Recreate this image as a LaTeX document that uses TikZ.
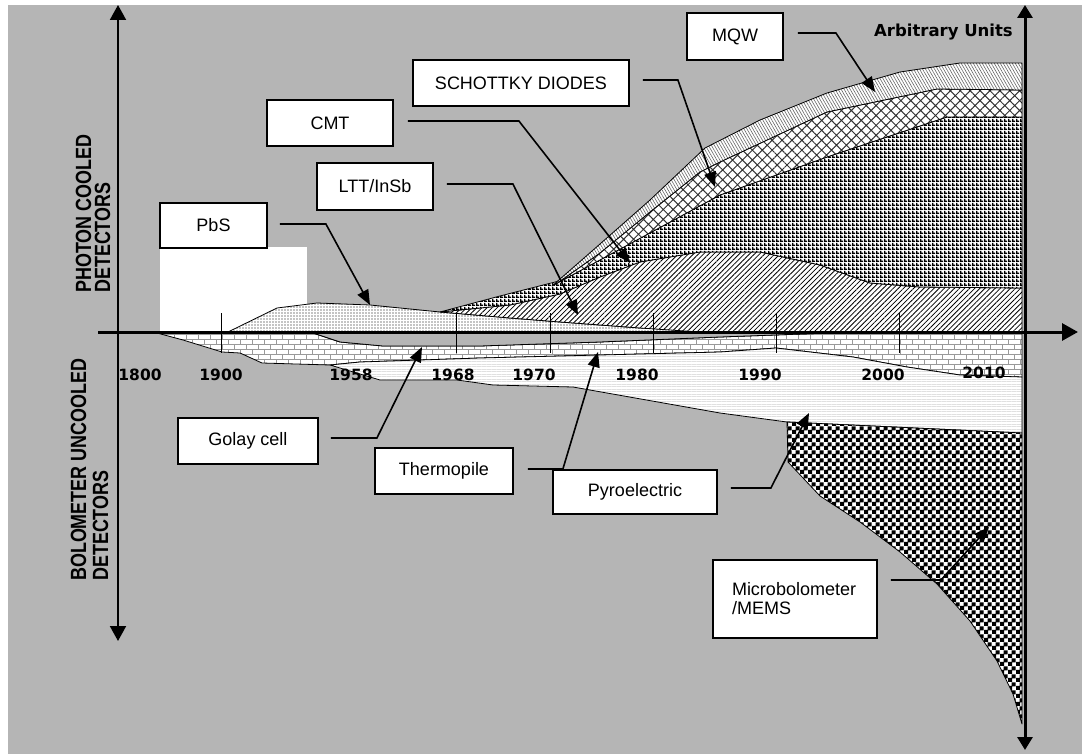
\documentclass[tikz,border=0pt]{standalone}
\usepackage{fontspec}
\setmainfont{Liberation Sans}
\newfontfamily\dvb{DejaVu Sans}
\newfontfamily\nrw{Liberation Sans}[FakeStretch=0.815]
\usetikzlibrary{arrows.meta,patterns,patterns.meta}
\definecolor{bg}{RGB}{181,181,181}

\pgfdeclarepatternformonly{mybricks}{\pgfpoint{-1pt}{-1pt}}{\pgfpoint{13pt}{11pt}}{\pgfpoint{12pt}{10pt}}{%
  \pgfsetlinewidth{0.7pt}%
  \pgfpathmoveto{\pgfpoint{0pt}{0pt}}\pgfpathlineto{\pgfpoint{12pt}{0pt}}%
  \pgfpathmoveto{\pgfpoint{0pt}{5pt}}\pgfpathlineto{\pgfpoint{12pt}{5pt}}%
  \pgfpathmoveto{\pgfpoint{0pt}{0pt}}\pgfpathlineto{\pgfpoint{0pt}{5pt}}%
  \pgfpathmoveto{\pgfpoint{6pt}{5pt}}\pgfpathlineto{\pgfpoint{6pt}{10pt}}%
  \pgfusepath{stroke}}
\pgfdeclarepatternformonly{mycheck}{\pgfpointorigin}{\pgfpoint{8pt}{8pt}}{\pgfpoint{8pt}{8pt}}{%
  \pgfpathrectangle{\pgfpointorigin}{\pgfpoint{4.5pt}{4.5pt}}%
  \pgfpathrectangle{\pgfpoint{4pt}{4pt}}{\pgfpoint{4.5pt}{4.5pt}}%
  \pgfusepath{fill}}
\pgfdeclarepatternformonly{mygrid}{\pgfpointorigin}{\pgfpoint{4pt}{4pt}}{\pgfpoint{4pt}{4pt}}{%
  \pgfpathrectangle{\pgfpointorigin}{\pgfpoint{4pt}{1.8pt}}%
  \pgfpathrectangle{\pgfpointorigin}{\pgfpoint{1.8pt}{4pt}}%
  \pgfusepath{fill}}

\tikzset{
  region/.style={draw=black, line width=0.8pt, line join=round, preaction={fill=white}},
  box/.style={draw=black, line width=1.8pt, fill=white, inner sep=0pt, font=\fontsize{18}{20}\selectfont},
  conn/.style={line width=1.6pt, -{Triangle[length=15pt,width=12pt]}},
  yearlab/.style={font=\dvb\bfseries\fontsize{15.5}{18}\selectfont, anchor=base, inner sep=0pt},
  axislab/.style={font=\nrw\bfseries\fontsize{22}{24}\selectfont, rotate=90, anchor=base west, inner sep=0pt},
  tickline/.style={line width=1pt},
}

\begin{document}
\begin{tikzpicture}[x=1pt,y=-1pt]
\useasboundingbox (0,0) rectangle (1082,754);
\fill[white] (0,0) rectangle (1082,754);
\fill[bg] (8,5) rectangle (1082,754);
\fill[white] (160,247) rectangle (307,332);

% ---------- regions above axis ----------
% PbS
\path[region, pattern={Dots[radius=0.7pt,distance=3pt]}, pattern color=black]
  (228,332) -- (277,308) -- (317,303) -- (370,305) -- (440,312) -- (510,318) -- (560,322)
  -- (640,328) -- (700,331) -- (700,332) -- cycle;
% LTT/InSb
\path[region, pattern={Lines[angle=45,distance=3.6pt,line width=0.8pt]}, pattern color=black]
  (440,312) -- (510,318) -- (560,322) -- (640,328) -- (700,332) -- (1022,332) -- (1022,288)
  -- (920,287) -- (870,283) -- (820,265) -- (760,252) -- (700,252) -- (640,262)
  -- (600,277) -- (560,294) -- (510,305) -- cycle;
% CMT
\path[region, pattern=mygrid, pattern color=black]
  (440,312) -- (510,305) -- (560,294) -- (600,277) -- (640,262) -- (700,252) -- (760,252)
  -- (820,265) -- (870,283) -- (920,287) -- (1022,288) -- (1022,117) -- (947,117)
  -- (830,156) -- (720,195) -- (563,280) -- (500,296) -- cycle;
% SCHOTTKY DIODES
\path[region, pattern={Hatch[angle=45,distance=7pt,line width=1pt]}, pattern color=black!80]
  (556,284) -- (563,280) -- (720,195) -- (830,156) -- (947,117) -- (1022,117) -- (1022,90)
  -- (937,89) -- (827,112) -- (720,162) -- (700,172) -- (650,212) -- (600,253) -- cycle;
% MQW
\path[region, pattern={Lines[angle=-60,distance=2.6pt,line width=0.6pt]}, pattern color=black!60]
  (552,286) -- (556,284) -- (600,253) -- (650,212) -- (700,172) -- (720,162) -- (827,112)
  -- (937,89) -- (1022,90) -- (1022,63) -- (960,63) -- (900,72) -- (827,93) -- (760,120)
  -- (705,148) -- (650,200) -- (600,244) -- cycle;

% ---------- regions below axis ----------
% Thermopile
\path[region, pattern=mybricks, pattern color=black!40]
  (157,333) -- (183,340) -- (222,352) -- (240,353) -- (262,363) -- (330,365) -- (360,362)
  -- (480,358) -- (720,352) -- (776,348) -- (853,357) -- (907,367) -- (960,375) -- (1022,377)
  -- (1022,333) -- (830,333) -- (720,337) -- (600,342) -- (480,346) -- (383,346)
  -- (340,342) -- (313,333) -- cycle;
% Golay cell
\path[draw=black, line width=0.8pt, fill=bg]
  (313,333) -- (340,342) -- (383,346) -- (480,346) -- (600,342) -- (720,337) -- (830,333) -- cycle;
% Pyroelectric
\path[region, pattern={Lines[angle=0,distance=2.5pt,line width=0.4pt]}, pattern color=black!12]
  (330,365) -- (360,362) -- (480,358) -- (720,352) -- (776,348) -- (853,357) -- (907,367)
  -- (960,375) -- (1022,377) -- (1022,433) -- (787,422) -- (720,413) -- (573,387)
  -- (493,385) -- (457,380) -- (380,380) -- cycle;
% Microbolometer / MEMS
\path[region, pattern=mycheck, pattern color=black]
  (787,422) -- (1022,433) -- (1022,724) -- (1013,694) -- (997,661) -- (970,621) -- (937,584)
  -- (900,552) -- (860,522) -- (820,496) -- (788,462) -- cycle;

% ---------- ticks ----------
\foreach \tx in {221,456,550,653,776,899}
  \draw[tickline] (\tx,313) -- (\tx,353);

% ---------- axes ----------
\draw[line width=2pt, {Triangle[length=15pt,width=16pt]}-{Triangle[length=15pt,width=16pt]}] (118,641) -- (118,5);
\draw[line width=3pt, -{Triangle[length=16pt,width=17pt]}] (98,332) -- (1078,332);
\draw[line width=3pt, {Triangle[length=13pt,width=15pt]}-{Triangle[length=13pt,width=15pt]}] (1025,750) -- (1025,5);

% ---------- axis labels ----------
\node[axislab] (phot1) at (91,293) {PHOTON COOLED};
\node[axislab] (phot2) at (110,293) {DETECTORS};
\node[axislab] (bol1) at (86,581) {BOLOMETER UNCOOLED};
\node[axislab] (bol2) at (108,581) {DETECTORS};
\node[font=\dvb\bfseries\fontsize{16.5}{19}\selectfont, anchor=base east, inner sep=0pt] (au) at (1013,37) {Arbitrary Units};

% ---------- years ----------
\node[yearlab] (y1800) at (140,380) {1800};
\node[yearlab] (y1900) at (221,380) {1900};
\node[yearlab] (y1958) at (351,380) {1958};
\node[yearlab] (y1968) at (453,380) {1968};
\node[yearlab] (y1970) at (534,380) {1970};
\node[yearlab] (y1980) at (637,380) {1980};
\node[yearlab] (y1990) at (760,380) {1990};
\node[yearlab] (y2000) at (883,380) {2000};
\node[yearlab] (y2010) at (984,378) {2010};

% ---------- label boxes ----------
\node[box, minimum width=107pt, minimum height=45pt] (pbs) at (213.5,225.5) {PbS};
\node[box, minimum width=126pt, minimum height=46pt] (cmt) at (330,123) {CMT};
\node[box, minimum width=116pt, minimum height=47pt] (ltt) at (375,186.5) {LTT/InSb};
\node[box, minimum width=216pt, minimum height=46pt] (sch) at (521,83) {SCHOTTKY DIODES};
\node[box, minimum width=96pt, minimum height=47pt] (mqw) at (735,36.5) {MQW};
\node[box, minimum width=140pt, minimum height=46pt] (golay) at (248,441) {Golay cell};
\node[box, minimum width=138pt, minimum height=46pt] (therm) at (444,471) {Thermopile};
\node[box, minimum width=164pt, minimum height=44pt] (pyro) at (635,492) {Pyroelectric};
\node[box, minimum width=164pt, minimum height=78pt, align=left, text width=126pt,
      font=\fontsize{18}{19}\selectfont] (micro) at (795,599) {Microbolometer\\/MEMS};

% ---------- connectors ----------
\coordinate (tPbS) at (370,305);
\coordinate (tCMT) at (630,263);
\coordinate (tLTT) at (578,315);
\coordinate (tSch) at (715,187);
\coordinate (tMQW) at (875,92);
\coordinate (tGolay) at (422,347);
\coordinate (tTherm) at (598,352);
\coordinate (tPyro) at (809,413);
\coordinate (tMicro) at (989,527);

\draw[conn] ([xshift=12pt,yshift=1.5pt]pbs.east) -- ++(46,0) -- (tPbS);
\draw[conn] ([xshift=14pt,yshift=2pt]cmt.east) -- ++(111,0) -- (tCMT);
\draw[conn] ([xshift=13pt,yshift=2.5pt]ltt.east) -- ++(66,0) -- (tLTT);
\draw[conn] ([xshift=13pt,yshift=3pt]sch.east) -- ++(35,0) -- (tSch);
\draw[conn] ([xshift=14pt,yshift=3.5pt]mqw.east) -- ++(38,0) -- (tMQW);
\draw[conn] ([xshift=12pt,yshift=3pt]golay.east) -- ++(46,0) -- (tGolay);
\draw[conn] ([xshift=14pt,yshift=2pt]therm.east) -- ++(35,0) -- (tTherm);
\draw[conn] ([xshift=13pt,yshift=4pt]pyro.east) -- ++(40,0) -- (tPyro);
\draw[conn] ([xshift=13pt,yshift=19pt]micro.east) -- ++(50,0) -- (tMicro);
\end{tikzpicture}
\end{document}
